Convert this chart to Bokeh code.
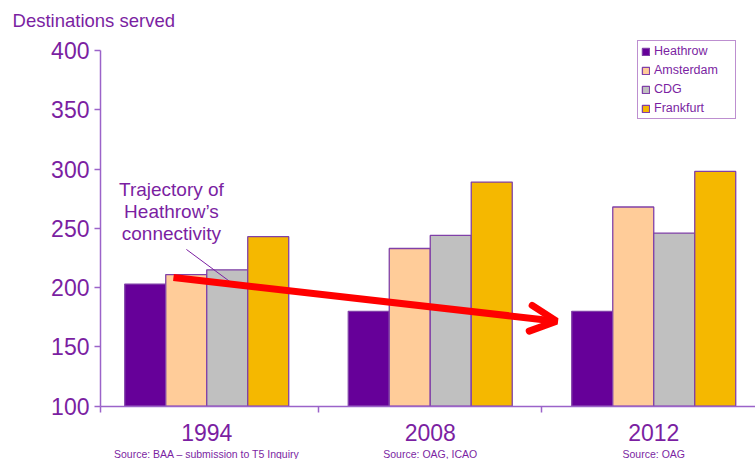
from bokeh.plotting import figure
from bokeh.models import (ColumnDataSource, FixedTicker, Label, Legend, LegendItem,
                          Arrow, OpenHead)
from bokeh.embed import file_html
from bokeh.resources import INLINE
from bokeh.core.properties import value

# ---- data ----
years = ["1994", "2008", "2012"]
sources = ["Source: BAA \u2013 submission to T5 Inquiry", "Source: OAG, ICAO", "Source: OAG"]
airports = ["Heathrow", "Amsterdam", "CDG", "Frankfurt"]
heathrow = [203, 180, 180]
amsterdam = [211, 233, 268]
cdg = [215, 244, 246]
frankfurt = [243, 289, 298]
y_ticks = [100, 150, 200, 250, 300, 350, 400]

# trajectory arrow (Heathrow 1994 -> 2012 trend), in data units
traj_start = (0.351, 208.5)
traj_end = (2.065, 171.7)
note_lines = ["Trajectory of", "Heathrow\u2019s", "connectivity"]

# ---- style ----
PURPLE = "#7B1FA2"
AXIS = "#9B63C9"
OUTLINE = "#8040A8"
colors = ["#660099", "#FFCC99", "#C0C0C0", "#F5B800"]
FONT = "Liberation Sans"

bar_w = 0.1834
series = [heathrow, amsterdam, cdg, frankfurt]
X0 = 0.0246  # x position of the value axis

p = figure(width=755, height=459, output_backend="svg", toolbar_location=None,
           x_range=(-0.42282, 2.95526), y_range=(55.05, 442.16),
           min_border_left=0, min_border_right=0, min_border_top=0, min_border_bottom=0)
p.outline_line_color = None
p.xgrid.visible = False
p.ygrid.visible = False
p.background_fill_color = "white"
p.border_fill_color = "white"

renderers = []
for k, (name, vals, col) in enumerate(zip(airports, series, colors)):
    xs = [i + 0.5 + (k - 1.5) * bar_w for i in range(len(years))]
    src = ColumnDataSource(dict(x=xs, top=vals))
    r = p.vbar(x="x", top="top", bottom=100, width=bar_w, source=src,
               fill_color=col, line_color=OUTLINE, line_width=1.3)
    renderers.append(r)

# y axis
yax = p.yaxis[0]
yax.fixed_location = X0
yax.ticker = FixedTicker(ticks=y_ticks)
yax.bounds = (100, 400)
yax.major_tick_out = 6
yax.major_tick_in = 0
yax.minor_tick_line_color = None
yax.axis_line_color = AXIS
yax.axis_line_width = 1.5
yax.major_tick_line_color = AXIS
yax.major_tick_line_width = 1.5
yax.major_label_text_font = FONT
yax.major_label_text_font_size = "23px"
yax.major_label_text_color = PURPLE
yax.major_label_standoff = 5

# x axis
xax = p.xaxis[0]
xax.fixed_location = 100
xax.ticker = FixedTicker(ticks=[X0, 1, 2])
xax.bounds = (X0, 2.95526)
xax.major_label_overrides = {X0: " ", 1: " ", 2: " "}
xax.major_label_text_font_size = "1px"
xax.major_tick_out = 6
xax.major_tick_in = 0
xax.minor_tick_line_color = None
xax.axis_line_color = AXIS
xax.axis_line_width = 1.5
xax.major_tick_line_color = AXIS
xax.major_tick_line_width = 1.5

# year labels and sources below the axis
for i, (yr, s) in enumerate(zip(years, sources)):
    p.add_layout(Label(x=i + 0.5, y=77.5, text=yr, text_align="center", text_baseline="middle",
                       text_font=FONT, text_font_size="23px", text_color=PURPLE))
    p.add_layout(Label(x=i + 0.5, y=60.1, text=s, text_align="center", text_baseline="middle",
                       text_font=FONT, text_font_size="10.5px", text_color=PURPLE))

# axis title
p.add_layout(Label(x=-0.369, y=425.3, text="Destinations served", text_align="left",
                   text_baseline="middle", text_font=FONT, text_font_size="18.5px", text_color=PURPLE))

# annotation text
note_src = ColumnDataSource(dict(x=[0.342] * 3, y=[282.8, 264.2, 245.7], t=note_lines))
p.text(x="x", y="y", text="t", source=note_src, text_align="center", text_baseline="middle",
       text_font=value(FONT), text_font_size="19px", text_color=PURPLE)
p.segment(x0=[0.409], y0=[232.2], x1=[0.615], y1=[203.5], line_color=PURPLE, line_width=1)

# red trajectory arrow
p.add_layout(Arrow(x_start=traj_start[0], y_start=traj_start[1], x_end=traj_end[0], y_end=traj_end[1],
                   line_color="#FF0000", line_width=7,
                   end=OpenHead(size=26, line_color="#FF0000", line_width=7, line_cap="round")))

# legend
legend = Legend(items=[LegendItem(label=n, renderers=[r]) for n, r in zip(airports, renderers)],
                location=(637, 340), orientation="vertical",
                glyph_width=9, glyph_height=9, label_height=13, label_width=78,
                label_standoff=4, spacing=5, padding=3, margin=0,
                label_text_font=FONT, label_text_font_size="12.5px", label_text_color=PURPLE,
                border_line_color=PURPLE, border_line_width=1.5, background_fill_alpha=1)
p.add_layout(legend)

open("out.html", "w").write(file_html(p, INLINE))
